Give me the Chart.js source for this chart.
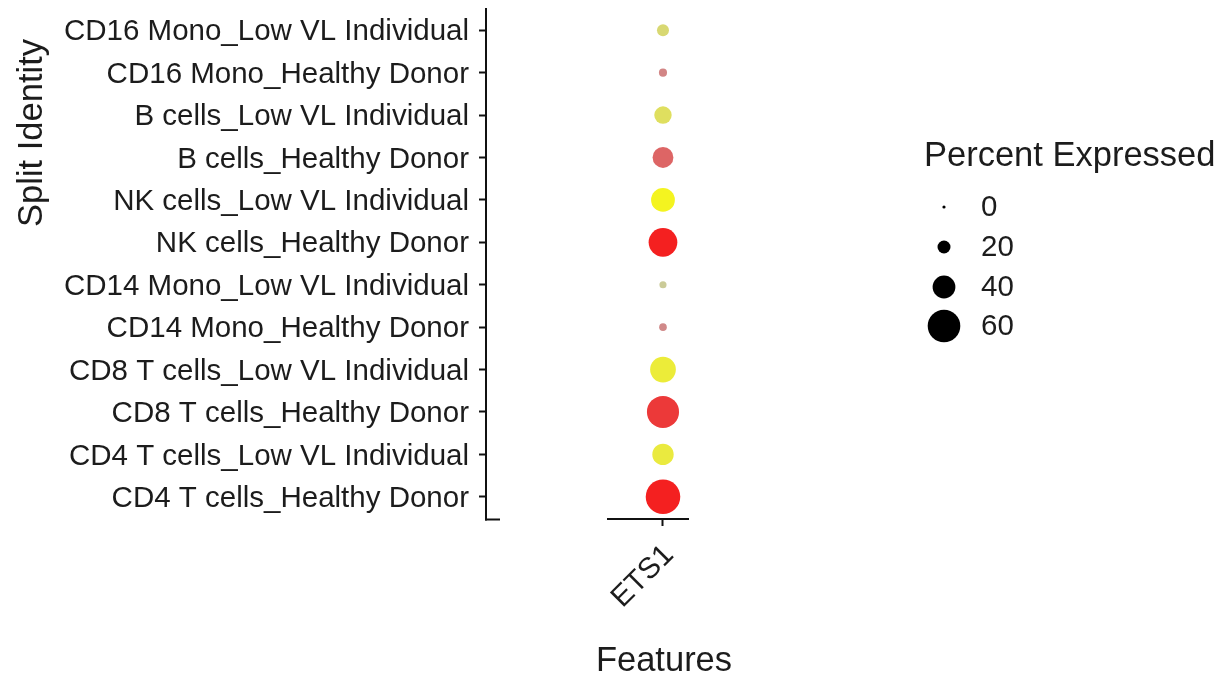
<!DOCTYPE html>
<html>
<head>
<meta charset="utf-8">
<script src="https://cdn.jsdelivr.net/npm/chart.js@4/dist/chart.umd.min.js"></script>
<style>
  html, body { margin: 0; padding: 0; background: #ffffff; }
  #wrap { width: 1225px; height: 681px; }
</style>
</head>
<body>
<div id="wrap"><canvas id="dotplot" width="1225" height="681"></canvas></div>
<script>
// Features on the x axis
const features = ['ETS1'];

// Split identities, listed top to bottom
const identities = [
  'CD16 Mono_Low VL Individual',
  'CD16 Mono_Healthy Donor',
  'B cells_Low VL Individual',
  'B cells_Healthy Donor',
  'NK cells_Low VL Individual',
  'NK cells_Healthy Donor',
  'CD14 Mono_Low VL Individual',
  'CD14 Mono_Healthy Donor',
  'CD8 T cells_Low VL Individual',
  'CD8 T cells_Healthy Donor',
  'CD4 T cells_Low VL Individual',
  'CD4 T cells_Healthy Donor'
];

// Percent of cells expressing ETS1, per identity
const pctExpressed = [18, 10, 29, 36, 42, 52, 8, 9, 46, 59, 37, 64];

// Scaled average expression (0 = low, 1 = high), per identity
const avgExpScaled = [0.40, 0.30, 0.50, 0.47, 0.83, 0.83, 0.20, 0.28, 0.70, 0.70, 0.67, 0.83];

// Size legend breaks
const sizeBreaks = [0, 20, 40, 60];

const FONT = '"Liberation Sans", Arial, Helvetica, sans-serif';
const INK = '#1c1c1c';
const AXIS = '#111111';
const TICK_PX = 29.5;
const TITLE_PX = 34.5;

// each split group ramps from grey to its own colour
const baseGrey = [190, 190, 190];
const groupColors = {
  'Healthy Donor': [255, 0, 0],
  'Low VL Individual': [255, 255, 0]
};
function dotColor(identity, t) {
  const g = groupColors[identity.split('_')[1]];
  const c = baseGrey.map((b, k) => Math.round(b + (g[k] - b) * t));
  return 'rgb(' + c.join(',') + ')';
}
// dot radius grows linearly with percent expressed
function dotRadius(p) { return 1.6 + 0.245 * p; }

const points = [];
features.forEach((f, fi) => {
  identities.forEach((id, i) => {
    points.push({ x: fi + 1, y: id, pct: pctExpressed[i], exp: avgExpScaled[i] });
  });
});

// axis lines, axis titles and the size legend
const decorations = {
  id: 'decorations',
  afterDraw(chart) {
    const { ctx, chartArea } = chart;
    const yAxisBottom = chartArea.bottom + 1;
    ctx.save();
    ctx.strokeStyle = AXIS;
    ctx.lineWidth = 2;
    ctx.lineCap = 'butt';
    // foot of the y axis
    ctx.beginPath();
    ctx.moveTo(chartArea.left - 1, yAxisBottom + 0.5);
    ctx.lineTo(chartArea.left + 14, yAxisBottom + 0.5);
    ctx.stroke();
    // x axis line under the feature column
    ctx.beginPath();
    ctx.moveTo(chartArea.right - 82, yAxisBottom);
    ctx.lineTo(chartArea.right, yAxisBottom);
    ctx.stroke();
    // y axis stub down to the foot
    ctx.beginPath();
    ctx.moveTo(chartArea.left, chartArea.bottom - 1);
    ctx.lineTo(chartArea.left, yAxisBottom + 1.5);
    ctx.stroke();

    ctx.fillStyle = INK;
    // x axis title
    ctx.font = TITLE_PX + 'px ' + FONT;
    ctx.textAlign = 'center';
    ctx.textBaseline = 'alphabetic';
    const xs = chart.scales.x;
    ctx.fillText('Features', xs.getPixelForValue(1) + 1, 671);
    // y axis title
    ctx.save();
    ctx.translate(42, 133);
    ctx.rotate(-Math.PI / 2);
    ctx.fillText('Split Identity', 0, 0);
    ctx.restore();

    // size legend
    ctx.textAlign = 'left';
    ctx.fillText('Percent Expressed', 924, 166);
    ctx.font = TICK_PX + 'px ' + FONT;
    ctx.textBaseline = 'middle';
    const rowY = [207, 247, 287, 326];
    sizeBreaks.forEach((b, i) => {
      ctx.fillStyle = '#000000';
      ctx.beginPath();
      ctx.arc(944, rowY[i], dotRadius(b), 0, Math.PI * 2);
      ctx.fill();
      ctx.fillStyle = INK;
      ctx.fillText(String(b), 981, rowY[i] + 1);
    });
    ctx.restore();
  }
};

new Chart(document.getElementById('dotplot'), {
  type: 'scatter',
  data: {
    datasets: [{
      data: points,
      pointRadius: c => dotRadius(c.raw.pct),
      pointHoverRadius: c => dotRadius(c.raw.pct),
      pointBackgroundColor: c => dotColor(c.raw.y, c.raw.exp),
      pointBorderWidth: 0,
      pointHoverBorderWidth: 0,
      clip: false
    }]
  },
  options: {
    responsive: false,
    animation: false,
    events: [],
    layout: { autoPadding: false, padding: { left: 0, top: 9, right: 536, bottom: 0 } },
    plugins: { legend: { display: false }, tooltip: { enabled: false } },
    scales: {
      x: {
        type: 'linear',
        min: 0,
        max: features.length + 0.147,
        afterBuildTicks: s => { s.ticks = features.map((f, i) => ({ value: i + 1 })); },
        afterFit: s => { s.height = 163; s.paddingLeft = 0; s.paddingRight = 0; },
        ticks: {
          callback: v => features[Math.round(v) - 1] || '',
          minRotation: 45,
          maxRotation: 45,
          autoSkip: false,
          padding: 12,
          labelOffset: 6,
          color: INK,
          font: { family: FONT, size: TICK_PX }
        },
        grid: { drawOnChartArea: false, drawTicks: true, tickLength: 8, tickWidth: 2, tickColor: AXIS },
        border: { display: false }
      },
      y: {
        type: 'category',
        labels: identities,
        offset: true,
        afterFit: s => { s.width = 486; s.paddingTop = 0; s.paddingBottom = 0; },
        ticks: {
          autoSkip: false,
          padding: 10,
          labelOffset: 2,
          color: INK,
          font: { family: FONT, size: TICK_PX }
        },
        grid: { drawOnChartArea: false, drawTicks: true, tickLength: 7, tickWidth: 2, tickColor: AXIS },
        border: { display: true, color: AXIS, width: 2 }
      }
    }
  },
  plugins: [decorations]
});
</script>
</body>
</html>
